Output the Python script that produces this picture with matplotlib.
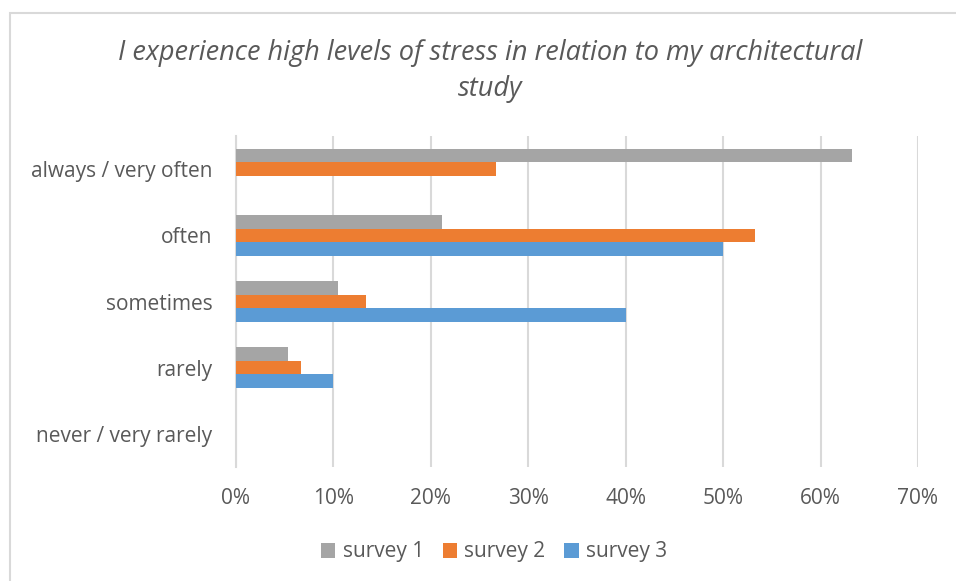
import numpy as np
import matplotlib.pyplot as plt
from matplotlib.patches import Rectangle

categories = ['always / very often', 'often', 'sometimes', 'rarely', 'never / very rarely']
survey1 = [63.2, 21.1, 10.5, 5.3, 0]
survey2 = [26.7, 53.3, 13.3, 6.7, 0]
survey3 = [0, 50.0, 40.0, 10.0, 0]
series_names = ['survey 1', 'survey 2', 'survey 3']
colors = ['#a5a5a5', '#ed7d31', '#5b9bd5']
xticks = [0, 10, 20, 30, 40, 50, 60, 70]

TEXT = '#595959'
GRID = '#d9d9d9'


def main():
    plt.rcParams['font.family'] = ['Open Sans', 'DejaVu Sans']
    fig = plt.figure(figsize=(9.56, 5.81), dpi=100)
    fig.patches.append(Rectangle((10 / 956, -0.1), 1.2, 1 - 13 / 581 + 0.1,
                                 transform=fig.transFigure, fill=False,
                                 edgecolor=GRID, linewidth=1.5))
    ax = fig.add_axes([236 / 956, 1 - 467 / 581, (918 - 236) / 956, (467 - 136) / 581])

    y = np.arange(len(categories))
    h = 0.205
    for i, vals in enumerate([survey1, survey2, survey3]):
        ax.barh(y + (i - 1) * h, vals, height=h, color=colors[i],
                label=series_names[i], zorder=3)

    ax.set_xlim(0, 70)
    ax.set_ylim(len(categories) - 0.5, -0.5)
    ax.set_xticks(xticks)
    ax.set_xticklabels([f'{t}%' for t in xticks])
    ax.set_yticks(y)
    ax.set_yticklabels(categories)
    ax.tick_params(length=0, labelsize=15, colors=TEXT)
    ax.tick_params(axis='y', pad=17)
    ax.tick_params(axis='x', pad=15)
    ax.grid(axis='x', color=GRID, linewidth=1.5, zorder=0)
    for s in ['top', 'right', 'bottom']:
        ax.spines[s].set_visible(False)
    ax.spines['left'].set_color(GRID)
    ax.spines['left'].set_linewidth(1.5)

    fig.text(490 / 956, 1 - 71 / 581,
             'I experience high levels of stress in relation to my architectural\nstudy',
             ha='center', va='center', fontsize=19.5, style='italic', color=TEXT,
             linespacing=1.4)

    fig.legend(loc='center', bbox_to_anchor=(494 / 956, 1 - 552 / 581), ncol=3,
               frameon=False, fontsize=15, labelcolor=TEXT, handlelength=0.7,
               handleheight=0.7, handletextpad=0.35, columnspacing=0.9)

    fig.savefig('out.png', dpi=100)


if __name__ == '__main__':
    main()
